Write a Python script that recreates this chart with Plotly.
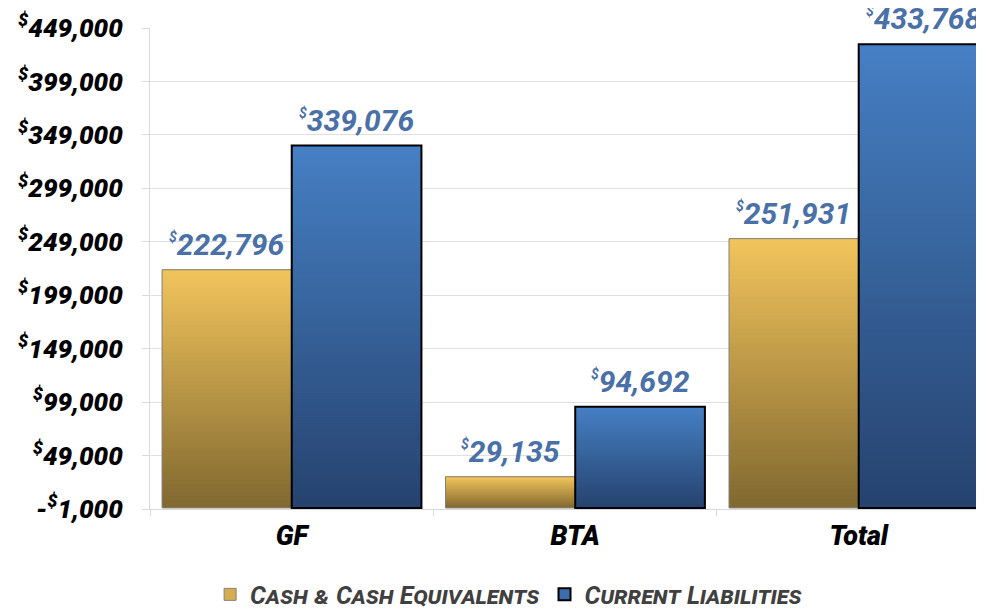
import plotly.graph_objects as go

categories = ["GF", "BTA", "Total"]
cash = [222796, 29135, 251931]
liabilities = [339076, 94692, 433768]
series_names = ["Cash & Cash Equivalents", "Current Liabilities"]
tick_vals = [-1000, 49000, 99000, 149000, 199000, 249000, 299000, 349000, 399000, 449000]

def money(v, small=None):
    s = f"{abs(v):,}"
    sign = "<span style='font-size:%dpx'>$</span>" % small if small else "$"
    return ("-" if v < 0 else "") + "<sup>" + sign + "</sup>" + s

tick_text = [money(v) for v in tick_vals]

N = 60
FONT = "Roboto"
gold_scale = [[0, "rgb(128,104,48)"], [1, "rgb(242,196,92)"]]
blue_scale = [[0, "rgb(38,66,110)"], [1, "rgb(70,128,196)"]]

fig = go.Figure()
W = 0.4575
specs = [
    (cash, -W, gold_scale, "rgb(130,130,130)", 1, "rgb(214,172,80)"),
    (liabilities, 0.0, blue_scale, "black", 2, "rgb(60,110,175)"),
]
for k, (vals, off, scale, lcol, lw, legcol) in enumerate(specs):
    xs, bases, ys, cols = [], [], [], []
    for i in range(N):
        for ci, c in enumerate(categories):
            v = vals[ci]
            xs.append(c)
            bases.append(v * i / N)
            ys.append(v * (1 - i / N))
            cols.append((i + 0.5) / N)
    fig.add_trace(go.Bar(
        x=xs, y=ys, base=bases, offset=off, width=W,
        marker=dict(color=cols, colorscale=scale, cmin=0, cmax=1, line=dict(width=0)),
        showlegend=False, hoverinfo="skip", cliponaxis=True))
    fig.add_trace(go.Bar(
        x=categories, y=vals, offset=off, width=W,
        marker=dict(color="rgba(0,0,0,0)", line=dict(color=lcol, width=lw)),
        showlegend=False, cliponaxis=True))
    fig.add_trace(go.Bar(
        x=[categories[0]], y=[None], name=series_names[k],
        marker=dict(color=legcol, line=dict(color=lcol, width=lw))))
    for ci, c in enumerate(categories):
        fig.add_annotation(
            x=ci + off + W / 2, y=vals[ci], xref="x", yref="y",
            text=money(vals[ci], small=14), showarrow=False, yanchor="bottom", yshift=6,
            font=dict(family=FONT, size=30, color="rgb(74,112,168)", style="italic", weight="bold"))

fig.update_layout(
    width=976, height=660,
    margin=dict(l=142, r=0, t=20, b=159),
    paper_bgcolor="white", plot_bgcolor="white",
    barmode="overlay",
    showlegend=True,
    legend=dict(orientation="h", x=0.43, xanchor="center", y=-0.178, yanchor="middle",
                font=dict(family=FONT, size=25, color="rgb(64,64,64)", style="italic",
                          weight="bold", variant="small-caps"),
                itemwidth=30, traceorder="normal"),
    xaxis=dict(type="category", categoryorder="array", categoryarray=categories,
               range=[-0.5, 2.442], showgrid=False, showline=True, linecolor="#d9d9d9",
               ticks="outside", tickson="boundaries", ticklen=6, tickcolor="#d9d9d9",
               ticklabelstandoff=3, automargin=False,
               tickfont=dict(family=FONT, size=27, color="black", style="italic", weight=900)),
    yaxis=dict(range=[-1000, 449000], tickvals=tick_vals, ticktext=tick_text,
               showgrid=True, gridcolor="#e0e0e0", zeroline=False,
               showline=True, linecolor="#d9d9d9", ticks="outside", ticklen=7,
               tickcolor="#d9d9d9", ticklabelstandoff=14, automargin=False,
               tickfont=dict(family=FONT, size=26, color="black", style="italic", weight=900)),
)
fig.write_html("out.html")
